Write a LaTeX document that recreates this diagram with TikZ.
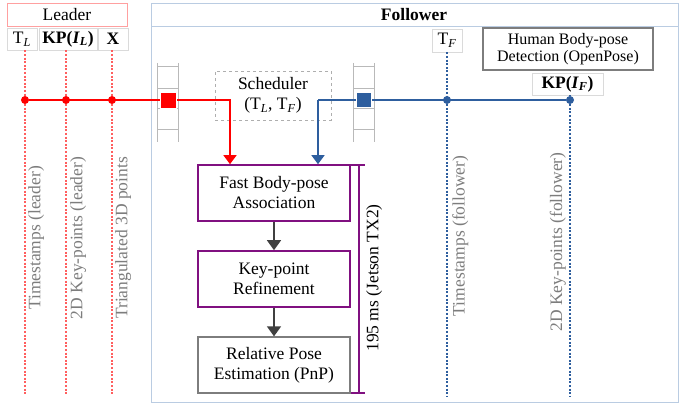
\documentclass[tikz,border=0pt]{standalone}
\usepackage{fontspec}
\setmainfont{Liberation Serif}
\usetikzlibrary{arrows.meta,positioning}
\definecolor{leadred}{RGB}{255,0,0}
\definecolor{leaddot}{RGB}{255,95,95}
\definecolor{leadframe}{RGB}{255,160,160}
\definecolor{folblue}{RGB}{46,94,158}
\definecolor{folframe}{RGB}{186,204,226}
\definecolor{procpurple}{RGB}{128,16,128}
\definecolor{labgray}{RGB}{125,125,125}
\definecolor{tagline}{RGB}{218,218,218}
\definecolor{flowgray}{RGB}{64,64,64}

\begin{document}
\begin{tikzpicture}[x=1pt,y=-1pt,font=\fontsize{17.5}{20}\selectfont,
  tagbox/.style={draw=tagline,line width=0.8pt,inner sep=0pt,minimum height=22},
  procbox/.style={draw=procpurple,line width=1.6pt,minimum width=152,minimum height=56,align=center,inner sep=0pt},
  sidelab/.style={rotate=90,text=labgray,inner sep=0pt},
  leaddots/.style={leaddot,line width=1.8pt,dash pattern=on 2pt off 1.6pt},
  foldots/.style={folblue,line width=1.8pt,dash pattern=on 2pt off 1.6pt},
  dotL/.style={circle,fill=leadred,inner sep=0pt,minimum size=8},
  dotF/.style={circle,fill=folblue,inner sep=0pt,minimum size=8},
  cell/.style={draw=tagline!85!black,line width=1pt},
  flow/.style={flowgray,line width=1.4pt,-{Triangle[width=14pt,length=10pt]}}]
\useasboundingbox (0,0) rectangle (681,406);

% frames
\draw[folframe,line width=0.9pt] (151,3) rectangle (678,402);
\draw[folframe,line width=0.9pt] (151,26) -- (678,26);
\node[font=\fontsize{17.5}{20}\selectfont\bfseries] (follower) at (414,15) {Follower};
\node[draw=leadframe,line width=0.9pt,minimum width=120,minimum height=23,inner sep=0pt] (leader) at (67,14.5) {Leader};

% leader tags
\node[tagbox,minimum width=30] (tl) at (22,39) {T\textsubscript{\textit{L}}};
\node[tagbox,minimum width=58] (kpl) at (68,39) {\textbf{KP(\textit{I}\textsubscript{\textit{L}})}};
\node[tagbox,minimum width=30] (xl) at (113,39) {\textbf{X}};

% follower tags
\node[tagbox,minimum width=30,minimum height=23] (tf) at (447,40.5) {T\textsubscript{\textit{F}}};
\node[draw=labgray,line width=1.2pt,minimum width=170,minimum height=42,align=center,inner sep=0pt,
  font=\fontsize{16}{16.5}\selectfont] (openpose) at (568,49) {Human Body-pose\\Detection (OpenPose)};
\node[tagbox,minimum width=71] (kpf) at (567.5,84) {\textbf{KP(\textit{I}\textsubscript{\textit{F}})}};

% buffers
\foreach \bx in {157,353} {
  \draw[cell] (\bx,63) -- (\bx,142);
  \draw[cell] (\bx+21,63) -- (\bx+21,142);
  \foreach \by in {67,89,109,130}
    \draw[cell] (\bx,\by) -- (\bx+21,\by);
}

% scheduler
\node[draw=tagline!80!black,dashed,line width=0.8pt,minimum width=116,minimum height=49,align=center,inner sep=0pt] (sched) at (273,95.5)
  {Scheduler\\(T\textsubscript{\textit{L}}, T\textsubscript{\textit{F}})};

% processing chain
\node[procbox] (fast) at (274,193) {Fast Body-pose\\Association};
\node[procbox] (refine) at (274,279) {Key-point\\Refinement};
\node[procbox,draw=labgray,line width=1.3pt] (pnp) at (274,365) {Relative Pose\\Estimation (PnP)};
\draw[flow] (fast) -- (refine);
\draw[flow] (refine) -- (pnp);

% timing bracket
\coordinate (btop) at (359,165);
\coordinate (bbot) at (359,393);
\draw[procpurple,line width=1.5pt] (btop) -- (bbot);
\draw[procpurple,line width=1.5pt] ([xshift=-8]btop) -- ([xshift=6]btop);
\draw[procpurple,line width=1.5pt] ([xshift=-8]bbot) -- ([xshift=6]bbot);
\node[rotate=90,inner sep=0pt,anchor=north] (ms) at (366,278) {195 ms (Jetson TX2)};

% leader stream
\node[dotL] (dtl) at (25,100) {};
\node[dotL] (dkpl) at (66,100) {};
\node[dotL] (dxl) at (112,100) {};
\coordinate (lturn) at (230,100);
\draw[leadred,line width=1.4pt,-{Triangle[width=13pt,length=9pt]}] (dtl) -- (lturn) -- (lturn |- fast.north);
\node[fill=leadred,draw=white,line width=0.6pt,minimum size=16,inner sep=0pt] (lsq) at (168,100) {};
\foreach \d/\t in {dtl/tl,dkpl/kpl,dxl/xl} {
  \draw[leaddots] (\d |- \t.south) -- (\d);
  \draw[leaddots] (\d) -- (\d |- 0,394);
}
\node[sidelab,anchor=north] (labtl) at (28,238) {Timestamps (leader)};
\node[sidelab,anchor=north] (labkpl) at (70,238) {2D Key-points (leader)};
\node[sidelab,anchor=north] (labxl) at (115,238) {Triangulated 3D points};

% follower stream
\node[dotF] (dtf) at (447,100) {};
\node[dotF] (dkpf) at (570,100) {};
\coordinate (fturn) at (318,100);
\draw[folblue,line width=1.4pt] (dkpf) -- (fturn);
\draw[folblue,line width=1.4pt,-{Triangle[width=13pt,length=9pt]}] (fturn) -- (fturn |- fast.north);
\node[fill=folblue,draw=white,line width=0.6pt,minimum size=15,inner sep=0pt] (fsq) at (364,100) {};
\foreach \d/\t in {dtf/tf,dkpf/kpf} {
  \draw[foldots] (\d |- \t.south) -- (\d);
  \draw[foldots] (\d) -- (\d |- 0,397);
}
\node[sidelab,anchor=north] (labtf) at (452,236) {Timestamps (follower)};
\node[sidelab,anchor=south] (labkpf) at (566,242) {2D Key-points (follower)};
\end{tikzpicture}
\end{document}
